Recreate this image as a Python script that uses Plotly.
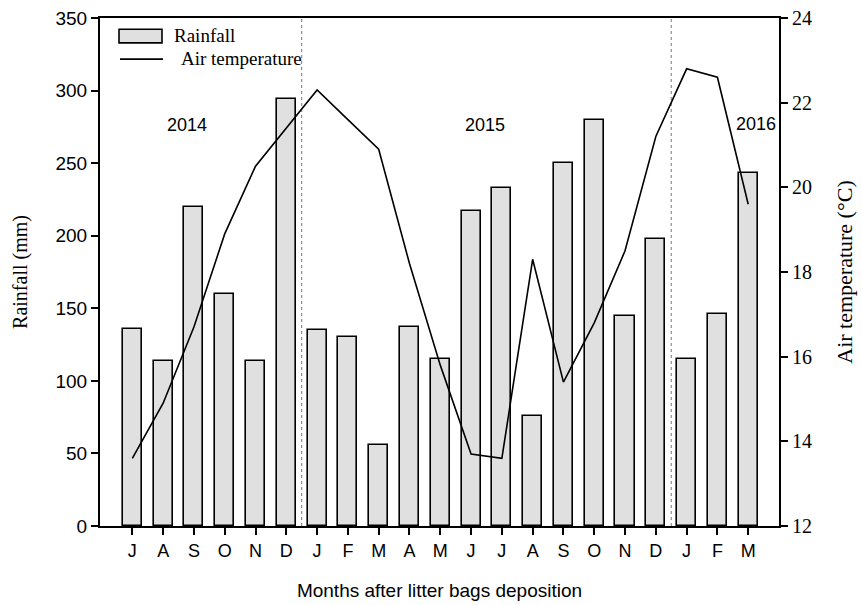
import plotly.graph_objects as go

# Monthly data, July 2014 - March 2016
months = ["J", "A", "S", "O", "N", "D", "J", "F", "M", "A", "M",
          "J", "J", "A", "S", "O", "N", "D", "J", "F", "M"]
rainfall_mm = [136, 114, 220, 160, 114, 294, 135, 130, 56, 137, 115,
               217, 233, 76, 250, 280, 145, 198, 115, 146, 243]
air_temp_c = [13.6, 14.9, 16.7, 18.9, 20.5, 21.4, 22.3, 21.6, 20.9, 18.2, 15.8,
              13.7, 13.6, 18.3, 15.4, 16.8, 18.5, 21.2, 22.8, 22.6, 19.6]
year_labels = ["2014", "2015", "2016"]
year_label_x = [1.79, 11.46, 20.26]
year_label_y = [276, 276, 277]
year_breaks = [5.5, 17.5]

idx = list(range(len(months)))

SANS = "Liberation Sans, Arial, sans-serif"
SERIF = "Liberation Serif, Times New Roman, serif"

fig = go.Figure()

fig.add_trace(go.Bar(
    x=idx, y=rainfall_mm, width=0.62,
    marker=dict(color="#e0e0e0", line=dict(color="black", width=1.6)),
    name="Rainfall", showlegend=False, yaxis="y",
))

fig.add_trace(go.Scatter(
    x=idx, y=air_temp_c, mode="lines",
    line=dict(color="black", width=1.6),
    name="Air temperature", showlegend=False, yaxis="y2",
))

# Year separators
for xb in year_breaks:
    fig.add_shape(type="line", xref="x", yref="paper", x0=xb, x1=xb, y0=0, y1=1,
                  line=dict(color="#777777", width=1, dash="dot"), layer="below")

# Year annotations
for lab, xx, yy in zip(year_labels, year_label_x, year_label_y):
    fig.add_annotation(x=xx, y=yy, xref="x", yref="y", text=lab, showarrow=False,
                       font=dict(family=SANS, size=18, color="black"))

# Legend drawn inside the plot, top-left
fig.add_shape(type="rect", xref="paper", yref="paper",
              x0=0.028, x1=0.0913, y0=0.951, y1=0.978,
              fillcolor="#e0e0e0", line=dict(color="black", width=1.6))
fig.add_shape(type="line", xref="paper", yref="paper",
              x0=0.0295, x1=0.0928, y0=0.919, y1=0.919,
              line=dict(color="black", width=1.6))
fig.add_annotation(xref="paper", yref="paper", x=0.106, y=0.966, text="Rainfall",
                   xanchor="left", yanchor="middle", showarrow=False,
                   font=dict(family=SERIF, size=19, color="black"))
fig.add_annotation(xref="paper", yref="paper", x=0.116, y=0.921, text="Air temperature",
                   xanchor="left", yanchor="middle", showarrow=False,
                   font=dict(family=SERIF, size=19, color="black"))

fig.update_layout(
    width=862, height=605,
    margin=dict(l=100, r=83, t=18, b=79),
    plot_bgcolor="white", paper_bgcolor="white",
    bargap=0,
    xaxis=dict(
        range=[-1.05, 21.0], tickmode="array", tickvals=idx, ticktext=months,
        ticks="outside", ticklen=7, tickwidth=1.6, tickcolor="black",
        showline=True, linecolor="black", linewidth=2, mirror=True,
        showgrid=False, zeroline=False, automargin=False,
        tickfont=dict(family=SANS, size=18, color="black"),
        title=dict(text="Months after litter bags deposition",
                   font=dict(family=SANS, size=19, color="black"), standoff=24),
    ),
    yaxis=dict(
        range=[0, 350], dtick=50, ticks="outside", ticklen=7, tickwidth=1.6,
        tickcolor="black", showline=True, linecolor="black", linewidth=2,
        showgrid=False, zeroline=False, automargin=False,
        tickfont=dict(family=SANS, size=19, color="black"),
        title=dict(text="Rainfall (mm)", font=dict(family=SERIF, size=20, color="black"),
                   standoff=22),
    ),
    yaxis2=dict(
        range=[12, 24], dtick=2, overlaying="y", side="right",
        ticks="outside", ticklen=7, tickwidth=1.6, tickcolor="black",
        showline=True, linecolor="black", linewidth=2,
        showgrid=False, zeroline=False, automargin=False,
        tickfont=dict(family=SERIF, size=20, color="black"),
        title=dict(text="Air temperature (\u00b0C)", font=dict(family=SERIF, size=22, color="black"),
                   standoff=26),
    ),
)

fig.write_html("out.html")
